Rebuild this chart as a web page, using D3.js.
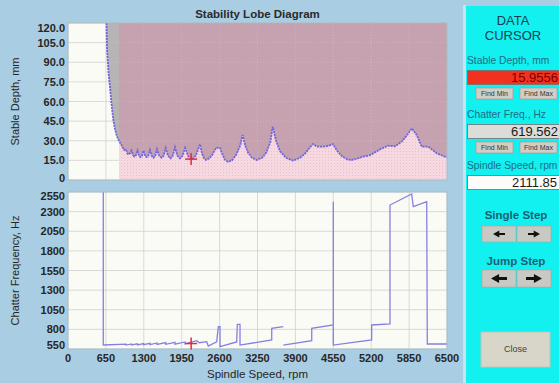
<!DOCTYPE html>
<html><head><meta charset="utf-8">
<script src="https://cdn.jsdelivr.net/npm/d3@7"></script>
<style>body{margin:0;background:#a9cde2;}svg{display:block;font-family:"Liberation Sans",Arial,sans-serif;}</style>
</head><body><svg id="c" width="559" height="383"></svg>
<script>
// ---- data ----
const xTicks = [0,650,1300,1950,2600,3250,3900,4550,5200,5850,6500];
const depthTicks = [0,15,30,45,60,75,90,105,120];
const freqTicks = [550,800,1050,1300,1550,1800,2050,2300,2550];
const speedTop = [660,669,695,720,746,777,806,835,875,926,960,995,1017,1038,1065,1089,1115,1140,1166,1192,1218,1243,1269,1295,1323,1351,1378,1406,1436,1466,1496,1526,1565,1604,1640,1676,1717,1758,1797,1835,1878,1921,1964,2007,2064,2121,2190,2264,2300,2335,2367,2420,2470,2520,2550,2607,2640,2690,2744,2812,2880,2950,2996,3035,3087,3156,3236,3330,3400,3470,3511,3568,3636,3740,3859,3980,4082,4150,4202,4270,4373,4460,4545,4620,4705,4790,4865,4970,5075,5179,5351,5488,5608,5723,5810,5894,5980,6066,6179,6323,6495];
const depth = [120,100,82,71,58,46,39,34,30,26,23,23.5,20.5,19.5,20.5,22.5,19,18,19,22.5,18.5,17.5,18.5,22.5,18.5,17.5,18.5,23,18.5,17,18.5,23.5,18.5,17,18.5,24.5,18.5,16.5,18.5,25,18.5,16.5,18.5,24.5,18,15.8,18.5,27.3,20,16.5,15.3,16.5,19,23,24.7,24.5,20.5,15.5,14,15,19,26,34.4,27,21,17,15.3,17,21,29,40.8,30,22,17,14.8,17,21,25,27.5,25.5,25.5,26,27.5,22,18,15.8,15.3,16.5,18,19,23.4,26.2,25.8,29.3,34,39.5,34.4,25.5,25.5,20.4,17.3];
const speedBot = [605,605,995,995,1089,1089,1192,1192,1295,1295,1406,1406,1526,1526,1676,1676,1835,1835,2007,2007,2207,2252,2378,2406,2550,2578,2607,2607,2893,2904,2950,2950,3494,3494,3692,null,3692,4180,4180,4550,4550,4550,5208,5208,5522,5522,5894,5922,6152,6162,6500];
const freqBot  = [2550,601,612,600,614,602,617,603,620,605,623,606,627,608,632,610,636,612,640,615,656,630,643,588,640,834,834,580,640,864,864,600,665,813,834,null,600,656,813,856,2427,600,665,856,870,2384,2524,2363,2427,614,614];
const stableFrom = 875;           // start of highlighted stable range (rpm)
const cursor = {speed:2111.85, depth:15.9556, freq:619.562};
const panelLabels = ["Stable Depth, mm","Chatter Freq., Hz","Spindle Speed, rpm"];
const panelValues = ["15.9556","619.562","2111.85"];

// ---- layout ----
const svg = d3.select("#c");
const W=559,H=383;
const L=68,R=447, T1=23,B1=180, T2=192,B2=349;
const x = d3.scaleLinear().domain([0,6500]).range([L,R]);
const yD = d3.scaleLinear().domain([0,120]).range([B1,T1]);
const yF = d3.scaleLinear().domain([550,2550]).range([B2,T2]);

svg.append("rect").attr("width",W).attr("height",H).attr("fill","#a9cde2");
const defs = svg.append("defs");
const pat = defs.append("pattern").attr("id","dots").attr("width",3).attr("height",3).attr("patternUnits","userSpaceOnUse");
pat.append("rect").attr("width",3).attr("height",3).attr("fill","#f6d8e0");
pat.append("rect").attr("x",1).attr("y",1).attr("width",1).attr("height",1).attr("fill","#ebbfcc");
defs.append("clipPath").attr("id","clip1").append("rect").attr("x",L).attr("y",T1).attr("width",R-L).attr("height",B1-T1);
defs.append("clipPath").attr("id","clip2").append("rect").attr("x",L).attr("y",T2).attr("width",R-L).attr("height",B2-T2);

svg.append("text").attr("x",(L+R)/2).attr("y",18).attr("text-anchor","middle")
  .attr("font-size",11.5).attr("font-weight","bold").attr("fill","#2a2a2a").text("Stability Lobe Diagram");

// ---- top plot ----
const g1 = svg.append("g");
g1.append("rect").attr("x",L).attr("y",T1).attr("width",R-L).attr("height",B1-T1).attr("fill","#fbfbf6");
const grid = (g, yscale, yt, top, bot) => {
  g.selectAll(".vg").data(xTicks).join("line").attr("x1",d=>x(d)).attr("x2",d=>x(d)).attr("y1",top).attr("y2",bot)
   .attr("stroke","#cfcfcf").attr("stroke-width",0.8);
  g.selectAll(".hg").data(yt).join("line").attr("x1",L).attr("x2",R).attr("y1",d=>yscale(d)).attr("y2",d=>yscale(d))
   .attr("stroke","#cfcfcf").attr("stroke-width",0.8);
};
grid(g1.append("g"), yD, depthTicks, T1, B1);
const topPts = speedTop.map((s,i)=>[s,depth[i]]);
const c1 = g1.append("g").attr("clip-path","url(#clip1)");
const areaAbove = d3.area().x(d=>x(d[0])).y0(T1).y1(d=>yD(d[1]));
c1.append("path").attr("d",areaAbove(topPts)).attr("fill","#b8b3b4");
const stablePts = topPts.filter(d=>d[0]>=stableFrom);
c1.append("path").attr("d",areaAbove(stablePts)).attr("fill","#c6a2b1");
c1.append("path").attr("d",d3.area().x(d=>x(d[0])).y0(B1).y1(d=>yD(d[1]))(stablePts)).attr("fill","url(#dots)");
c1.selectAll(".og").data(xTicks).join("line").attr("x1",d=>x(d)).attr("x2",d=>x(d)).attr("y1",T1).attr("y2",B1)
  .attr("stroke","#ffffff").attr("stroke-opacity",0.18).attr("stroke-dasharray","1,2");
c1.selectAll(".oh").data(depthTicks).join("line").attr("x1",L).attr("x2",R).attr("y1",d=>yD(d)).attr("y2",d=>yD(d))
  .attr("stroke","#ffffff").attr("stroke-opacity",0.18).attr("stroke-dasharray","1,2");
c1.append("path").attr("d",d3.line().x(d=>x(d[0])).y(d=>yD(d[1]))(topPts))
  .attr("fill","none").attr("stroke","#7366d8").attr("stroke-width",1.8).attr("stroke-dasharray","2.2,0.8");
g1.append("rect").attr("x",L).attr("y",T1).attr("width",R-L).attr("height",B1-T1).attr("fill","none").attr("stroke","#9fb3c2").attr("stroke-width",0.8);

const cross = (g,cx,cy)=>{
  g.append("line").attr("x1",cx-6).attr("x2",cx+6).attr("y1",cy).attr("y2",cy).attr("stroke","#e8283a").attr("stroke-width",1.5);
  g.append("line").attr("x1",cx).attr("x2",cx).attr("y1",cy-6).attr("y2",cy+6).attr("stroke","#e8283a").attr("stroke-width",1.5);
};
cross(g1, x(cursor.speed), yD(cursor.depth));

g1.selectAll(".yl").data(depthTicks).join("text")
  .attr("x",65).attr("y",d=>yD(d)+4 + (d===120?5:0) + (d===0?-2:0))
  .attr("text-anchor","end").attr("font-size",11).attr("font-weight","bold").attr("fill","#262626")
  .text(d=>d===0?"0":d3.format(".1f")(d));
svg.append("text").attr("transform",`translate(19,${(T1+B1)/2}) rotate(-90)`).attr("text-anchor","middle")
  .attr("font-size",11).attr("fill","#262626").text("Stable Depth, mm");

// ---- bottom plot ----
const g2 = svg.append("g");
g2.append("rect").attr("x",L).attr("y",T2).attr("width",R-L).attr("height",B2-T2).attr("fill","#fbfbf6");
grid(g2.append("g"), yF, freqTicks, T2, B2);
const c2 = g2.append("g").attr("clip-path","url(#clip2)");
const botPts = speedBot.map((s,i)=>[s,freqBot[i]]);
c2.append("path").attr("d",d3.line().defined(d=>d[0]!==null).x(d=>x(d[0])).y(d=>yF(d[1]))(botPts))
  .attr("fill","none").attr("stroke","#8480e2").attr("stroke-width",1.3);
g2.append("rect").attr("x",L).attr("y",T2).attr("width",R-L).attr("height",B2-T2).attr("fill","none").attr("stroke","#9fb3c2").attr("stroke-width",0.8);
cross(g2, x(cursor.speed), yF(cursor.freq));
g2.selectAll(".yl").data(freqTicks).join("text")
  .attr("x",65).attr("y",d=>yF(d)+4 + (d===2550?4:0) + (d===550?-4:0))
  .attr("text-anchor","end").attr("font-size",11).attr("font-weight","bold").attr("fill","#262626").text(d=>d);
g2.selectAll(".xl").data(xTicks).join("text")
  .attr("x",d=>x(d)).attr("y",362).attr("text-anchor","middle")
  .attr("font-size",11).attr("font-weight","bold").attr("fill","#262626").text(d=>d);
svg.append("text").attr("x",(L+R)/2).attr("y",378).attr("text-anchor","middle")
  .attr("font-size",11.5).attr("fill","#262626").text("Spindle Speed, rpm");
svg.append("text").attr("transform",`translate(19,${(T2+B2)/2}) rotate(-90)`).attr("text-anchor","middle")
  .attr("font-size",11).attr("fill","#262626").text("Chatter Frequency, Hz");

// ---- data cursor panel ----
const P = svg.append("g");
P.append("rect").attr("x",463).attr("y",5).attr("width",3).attr("height",H).attr("fill","#c4e4f0");
P.append("rect").attr("x",466).attr("y",6).attr("width",W-466).attr("height",H).attr("fill","#12f0f0");
P.append("text").attr("x",513).attr("y",25).attr("text-anchor","middle").attr("font-size",13).attr("fill","#1d3d50").text("DATA");
P.append("text").attr("x",513).attr("y",40).attr("text-anchor","middle").attr("font-size",13).attr("fill","#1d3d50").text("CURSOR");
const boxTops=[70,124,175];
const boxFill=["#f2321f","#dcdcd8","#fcfcfa"];
const valFill=["#7a0000","#1a1a1a","#1a1a1a"];
const valEnd=[558,558,557];
panelLabels.forEach((lab,i)=>{
  const t=boxTops[i];
  P.append("text").attr("x",467).attr("y",t-6).attr("font-size",10.3).attr("fill","#1f6c86").text(lab);
  P.append("rect").attr("x",467.5).attr("y",t+0.5).attr("width",95).attr("height",14).attr("fill",boxFill[i]).attr("stroke","#707070").attr("stroke-width",0.8);
  P.append("text").attr("x",valEnd[i]).attr("y",t+12).attr("text-anchor","end").attr("font-size",13).attr("fill",valFill[i]).text(panelValues[i]);
  if(i<2){
    [["Find Min",476],["Find Max",520]].forEach(([b,bx])=>{
      P.append("rect").attr("x",bx).attr("y",t+18).attr("width",37).attr("height",11).attr("fill","#cfcfc6").attr("stroke","#9a9a94").attr("stroke-width",0.6);
      P.append("text").attr("x",bx+18.5).attr("y",t+26).attr("text-anchor","middle").attr("font-size",7).attr("fill","#333").text(b);
    });
  }
});
const arrow=(cx,cy,dir,w,hh,sh)=>{
  const hx=cx+dir*w/2, bx=cx-dir*w/2, nx=hx-dir*hh*0.9;
  return `M${hx},${cy} L${nx},${cy-hh/2} L${nx},${cy-sh/2} L${bx},${cy-sh/2} L${bx},${cy+sh/2} L${nx},${cy+sh/2} L${nx},${cy+hh/2} Z`;
};
[["Single Step",219,226,16,12,7,2],["Jump Step",265,270,17,16,9,3]].forEach(([lab,ly,by,bh,aw,ah,as])=>{
  P.append("text").attr("x",516).attr("y",ly).attr("text-anchor","middle").attr("font-size",11.5).attr("font-weight","bold").attr("fill","#1a5f73").text(lab);
  [[482,-1],[517,1]].forEach(([bx,dir])=>{
    P.append("rect").attr("x",bx).attr("y",by).attr("width",34).attr("height",bh).attr("fill","#c9c9c4").attr("stroke","#a8a8a2").attr("stroke-width",0.6);
    P.append("path").attr("d",arrow(bx+17,by+bh/2,dir,aw,ah,as)).attr("fill","#111");
  });
});
P.append("rect").attr("x",481).attr("y",332).attr("width",69).attr("height",35).attr("fill","#d8d5c9").attr("stroke","#c4c1b6").attr("stroke-width",1);
P.append("text").attr("x",515.5).attr("y",352).attr("text-anchor","middle").attr("font-size",9).attr("fill","#444").text("Close");
</script></body></html>
